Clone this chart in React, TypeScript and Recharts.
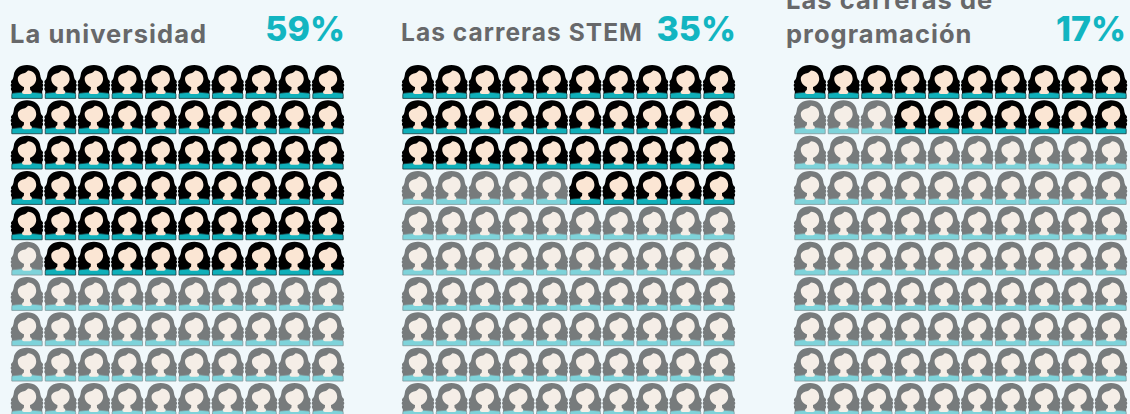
import React from 'react';
import { ScatterChart, Scatter, XAxis, YAxis } from 'recharts';

const panelTitles = [['La universidad'], ['Las carreras STEM'], ['Las carreras de', 'programación']];
const panelValues = ['59%', '35%', '17%'];

// how many icons are solid in each of the ten rows
const universidadRows = [10, 10, 10, 10, 10, 9, 0, 0, 0, 0];
const stemRows = [10, 10, 10, 5, 0, 0, 0, 0, 0, 0];
const programacionRows = [10, 7, 0, 0, 0, 0, 0, 0, 0, 0];

const buildCells = (rows: number[]) =>
  rows.flatMap((solid, row) =>
    Array.from({ length: 10 }, (_, col) => ({ col, row, solid: col >= 10 - solid }))
  );

const Person = ({ cx, cy, payload }: any) => (
  <g transform={`translate(${cx},${cy})`} opacity={payload.solid ? 1 : 0.5}>
    <path
      fill="#000"
      d="M0,-17 C7.5,-17 12.5,-13 13.2,-7 C13.6,-4.5 14,-3 15,-2 C16.2,-1 16.4,0.5 15.4,1.5 C16.6,2.5 16.6,4.2 15.4,5 C16.4,6 16.4,8 15.2,9 L15.2,12 L-15.2,12 L-15.2,9 C-16.4,8 -16.4,6 -15.4,5 C-16.6,4.2 -16.6,2.5 -15.4,1.5 C-16.4,0.5 -16.2,-1 -15,-2 C-14,-3 -13.6,-4.5 -13.2,-7 C-12.5,-13 -7.5,-17 0,-17 Z"
    />
    <path
      fill="#0fb0ba"
      stroke="#16383c"
      strokeWidth={0.8}
      d="M-15.2,16.4 L-15.2,12.5 C-15.2,11.5 -14.5,11 -13,11 L-5,10.2 L5,10.2 L13,11 C14.5,11 15.2,11.5 15.2,12.5 L15.2,16.4 Z"
    />
    <path fill="#fbe6d4" d="M-2.8,3 L2.8,3 L3.2,8 C5.5,9 5.5,12 3,12 L-3,12 C-5.5,12 -5.5,9 -3.2,8 Z" />
    <path
      fill="#fbe6d4"
      d="M1,-11.5 C6,-11.2 9.2,-8 9.2,-3 C9.2,2 4,5.5 0,5.5 C-4,5.5 -9.2,2 -9.2,-3 C-9.2,-6.5 -6.5,-8 -3,-8.8 C-1,-9.3 0,-10.3 1,-11.5 Z"
    />
  </g>
);

const panels = [
  { rows: universidadRows, left: 10, titleX: 10, titleY: [20], titleSize: 25.5, valueRight: 345 },
  { rows: stemRows, left: 401, titleX: 401, titleY: [18], titleSize: 24.5, valueRight: 736 },
  { rows: programacionRows, left: 792.5, titleX: 786, titleY: [-14, 20], titleSize: 25.5, valueRight: 1126 },
];

const StatPanel = ({ index }: { index: number }) => {
  const p = panels[index];
  return (
    <>
      {panelTitles[index].map((line, i) => (
        <div
          key={line}
          style={{
            position: 'absolute', left: p.titleX, top: p.titleY[i], fontFamily: 'Inter',
            fontWeight: 700, fontSize: p.titleSize, letterSpacing: 1.05, lineHeight: '28px', color: '#67686a', whiteSpace: 'nowrap',
          }}
        >
          {line}
        </div>
      ))}
      <div
        style={{
          position: 'absolute', right: 1130 - p.valueRight, top: 7, fontFamily: 'Inter',
          fontWeight: 800, fontSize: 34, lineHeight: '44px', color: '#12b5c1',
        }}
      >
        {panelValues[index]}
      </div>
      <div style={{ position: 'absolute', left: p.left, top: 0 }}>
        <ScatterChart width={335} height={414} margin={{ top: 82, right: 17, bottom: 14, left: 17 }}>
          <XAxis type="number" dataKey="col" domain={[0, 9]} hide />
          <YAxis type="number" dataKey="row" domain={[0, 9]} reversed hide />
          <Scatter data={buildCells(p.rows)} shape={Person} isAnimationActive={false} />
        </ScatterChart>
      </div>
    </>
  );
};

export default function App() {
  return (
    <div style={{ position: 'fixed', left: 0, top: 0, width: 1130, height: 414, overflow: 'hidden', background: '#f0f8fb' }}>
      <StatPanel index={0} />
      <StatPanel index={1} />
      <StatPanel index={2} />
    </div>
  );
}
